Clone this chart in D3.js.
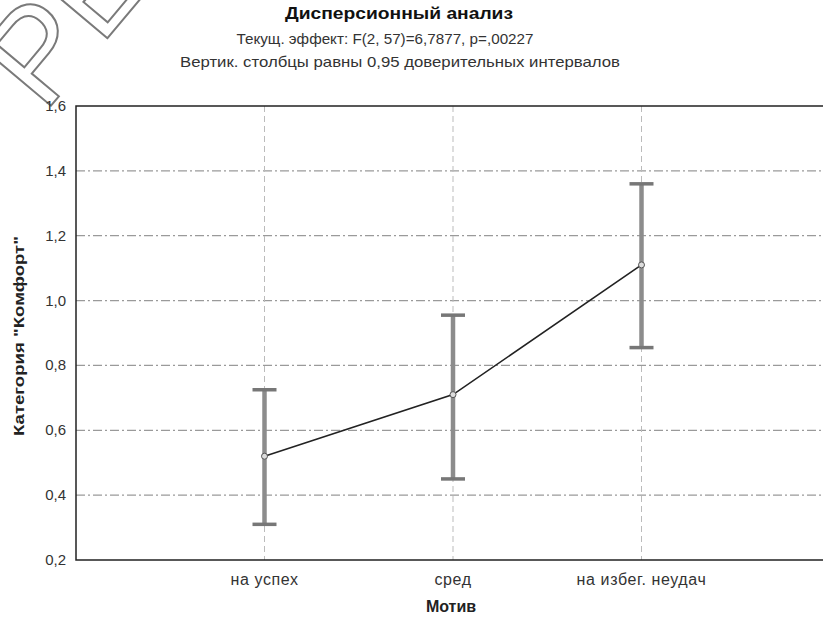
<!DOCTYPE html>
<html>
<head>
<meta charset="utf-8">
<script src="https://cdn.jsdelivr.net/npm/d3@7"></script>
<style>
  body { margin: 0; background: #fff; }
  svg { display: block; font-family: "Liberation Sans", Arial, sans-serif; }
</style>
</head>
<body>
<svg id="chart" width="823" height="621"></svg>
<script>
(function(d3) {
    'use strict';

    // data
    var categories = ['на успех', 'сред', 'на избег. неудач'];
    var means = [0.52, 0.71, 1.11];
    var upper = [0.725, 0.955, 1.36];
    var lower = [0.31, 0.45, 0.855];
    var yTicks = [0.2, 0.4, 0.6, 0.8, 1.0, 1.2, 1.4, 1.6];

    var titles = [
        'Дисперсионный анализ',
        'Текущ. эффект: F(2, 57)=6,7877, p=,00227',
        'Вертик. столбцы равны 0,95 доверительных интервалов'
    ];

    var svg = d3.select('#chart');
    var left = 76, right = 830, top = 106, bottom = 560;

    var x = d3.scaleLinear().domain([0, categories.length + 1]).range([left, right]);
    var y = d3.scaleLinear().domain([0.2, 1.6]).range([bottom, top]);

    var fmt = function(v) { return d3.format('.1f')(v).replace('.', ','); };

    // watermark
    svg.append('text')
        .attr('transform', 'translate(44,114) rotate(-50)')
        .attr('font-size', 132)
        .attr('fill', 'none')
        .attr('stroke', '#7a7a7a')
        .attr('stroke-width', 2)
        .text('РЕФ');

    // grid
    svg.append('g').selectAll('line')
        .data(yTicks.slice(1, -1))
        .enter().append('line')
        .attr('x1', left).attr('x2', right)
        .attr('y1', function(d) { return y(d); })
        .attr('y2', function(d) { return y(d); })
        .attr('stroke', '#9a9a9a')
        .attr('stroke-width', 1.2)
        .attr('stroke-dasharray', '9,3,2,3');

    svg.append('g').selectAll('line')
        .data(categories)
        .enter().append('line')
        .attr('x1', function(d, i) { return x(i + 1); })
        .attr('x2', function(d, i) { return x(i + 1); })
        .attr('y1', top).attr('y2', bottom)
        .attr('stroke', '#bbb')
        .attr('stroke-width', 1)
        .attr('stroke-dasharray', '6,4');

    // frame
    svg.append('path')
        .attr('d', 'M' + right + ',' + top + 'H' + left + 'V' + bottom + 'H' + right)
        .attr('fill', 'none')
        .attr('stroke', '#222')
        .attr('stroke-width', 1.5);

    // y axis labels
    svg.append('g').selectAll('text')
        .data(yTicks)
        .enter().append('text')
        .attr('x', left - 10)
        .attr('y', function(d) { return y(d) + 5; })
        .attr('text-anchor', 'end')
        .attr('font-size', 15)
        .attr('fill', '#333')
        .text(fmt);

    // x axis labels
    svg.append('g').selectAll('text')
        .data(categories)
        .enter().append('text')
        .attr('x', function(d, i) { return x(i + 1); })
        .attr('y', bottom + 25)
        .attr('text-anchor', 'middle')
        .attr('font-size', 16)
        .attr('letter-spacing', 0.6)
        .attr('fill', '#333')
        .text(function(d) { return d; });

    // error bars
    var bars = svg.append('g');
    categories.forEach(function(c, i) {
        var cx = x(i + 1);
        bars.append('line')
            .attr('x1', cx).attr('x2', cx)
            .attr('y1', y(upper[i])).attr('y2', y(lower[i]))
            .attr('stroke', '#8c8c8c').attr('stroke-width', 4.5);
        [upper[i], lower[i]].forEach(function(v) {
            bars.append('line')
                .attr('x1', cx - 12).attr('x2', cx + 12)
                .attr('y1', y(v)).attr('y2', y(v))
                .attr('stroke', '#777').attr('stroke-width', 3.5);
        });
    });

    // mean line
    svg.append('path')
        .datum(means)
        .attr('d', d3.line()
            .x(function(d, i) { return x(i + 1); })
            .y(function(d) { return y(d); }))
        .attr('fill', 'none')
        .attr('stroke', '#222')
        .attr('stroke-width', 1.6);

    svg.append('g').selectAll('circle')
        .data(means)
        .enter().append('circle')
        .attr('cx', function(d, i) { return x(i + 1); })
        .attr('cy', function(d) { return y(d); })
        .attr('r', 3)
        .attr('fill', '#ddd')
        .attr('stroke', '#555')
        .attr('stroke-width', 1);

    // titles
    var titleSpec = [
        {cx: 399, y: 19, size: 16, weight: 'bold', len: 228, color: '#111'},
        {cx: 385, y: 44, size: 15, weight: 'normal', len: 297, color: '#333'},
        {cx: 400, y: 67, size: 15, weight: 'normal', len: 440, color: '#333'}
    ];
    titles.forEach(function(t, i) {
        var s = titleSpec[i];
        svg.append('text')
            .attr('x', s.cx - s.len / 2).attr('y', s.y)
            .attr('font-size', s.size).attr('font-weight', s.weight)
            .attr('textLength', s.len)
            .attr('lengthAdjust', 'spacingAndGlyphs')
            .attr('fill', s.color)
            .text(t);
    });

    // axis titles
    svg.append('text')
        .attr('transform', 'translate(24,' + 436 + ') rotate(-90)')
        .attr('font-size', 15).attr('font-weight', 'bold')
        .attr('textLength', 200)
        .attr('lengthAdjust', 'spacingAndGlyphs')
        .attr('fill', '#222')
        .text('Категория "Комфорт"');
    svg.append('text')
        .attr('x', 451).attr('y', 612)
        .attr('text-anchor', 'middle')
        .attr('font-size', 16).attr('font-weight', 'bold')
        .attr('fill', '#222')
        .text('Мотив');
}(d3));
</script>
</body>
</html>
